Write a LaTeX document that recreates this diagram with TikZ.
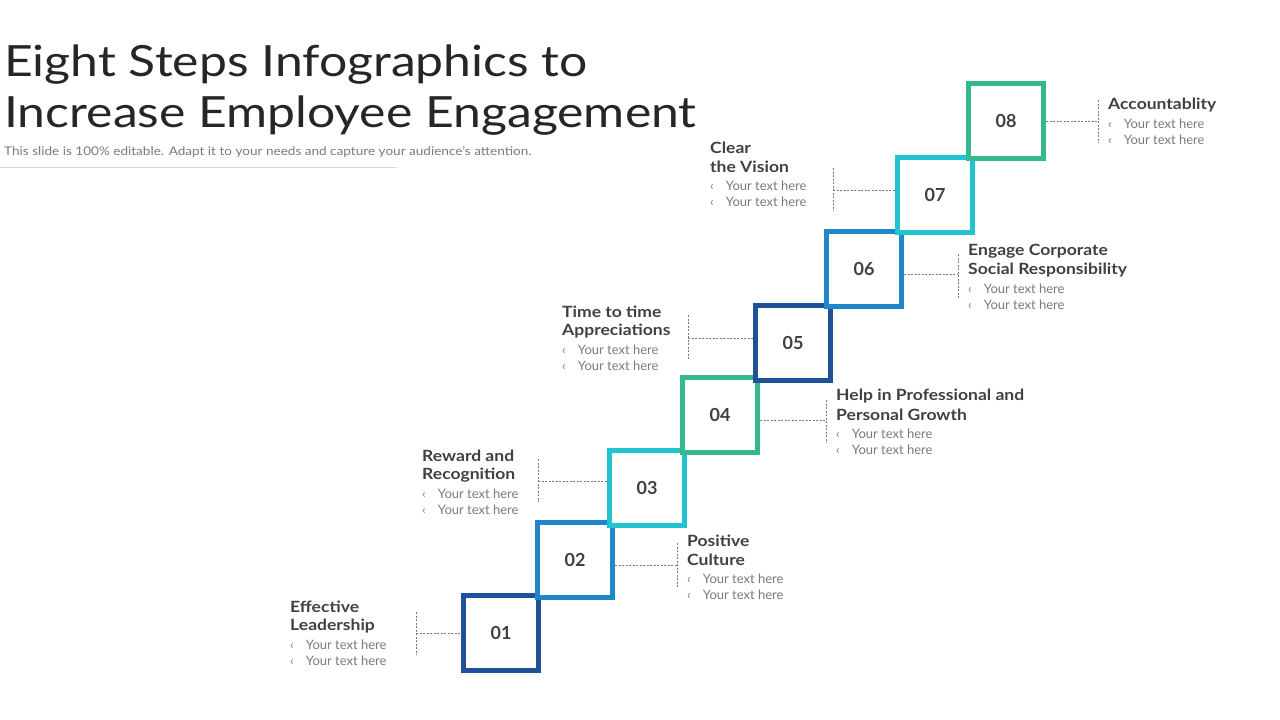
\documentclass[tikz,border=0pt]{standalone}
\usepackage{fontspec}
\setmainfont{Lato}
\definecolor{cA}{HTML}{1F5199}
\definecolor{cB}{HTML}{1E88C9}
\definecolor{cC}{HTML}{22C3D1}
\definecolor{cD}{HTML}{33B98A}
\definecolor{tx}{HTML}{404040}
\definecolor{gr}{HTML}{7A7A7A}
\tikzset{
 stepbox/.style={draw=#1,line width=5.5pt,minimum size=75pt,inner sep=0pt,fill=white,font=\fontsize{18}{20}\selectfont\bfseries,text=tx},
 ttl/.style={anchor=west,inner sep=0pt,xscale=1.13,font=\fontsize{15.5}{18}\selectfont\bfseries,text=tx},
 bul/.style={anchor=west,inner sep=0pt,font=\fontsize{13}{14}\selectfont,text=gr},
 dsh/.style={draw=gr,line width=0.6pt,dash pattern=on 2pt off 1.5pt}
}
\newcommand{\stepText}[5]{%
 \node[ttl] (#1t1) at (#2,#3) {#4};
 \node[ttl] (#1t2) at (#2,#3+19) {#5};
 \node[bul] (#1b1) at (#2,#3+38) {‹\hspace{12pt}Your text here};
 \node[bul] (#1b2) at (#2,#3+54) {‹\hspace{12pt}Your text here};
}
\newcommand{\stepTextOne}[4]{%
 \node[ttl] (#1t1) at (#2,#3) {#4};
 \node[bul] (#1b1) at (#2,#3+19) {‹\hspace{12pt}Your text here};
 \node[bul] (#1b2) at (#2,#3+35) {‹\hspace{12pt}Your text here};
}
\begin{document}
\begin{tikzpicture}[x=1pt,y=-1pt]
\useasboundingbox (0,0) rectangle (1280,720);
\node[anchor=west,inner sep=0pt,xscale=1.16,font=\fontsize{43}{46}\selectfont,text=black!85] (title1) at (4,65) {Eight Steps Infographics to};
\node[anchor=west,inner sep=0pt,xscale=1.16,font=\fontsize{43}{46}\selectfont,text=black!85] (title2) at (4,116) {Increase Employee Engagement};
\node[anchor=west,inner sep=0pt,xscale=1.13,font=\fontsize{12}{13}\selectfont,text=gr] (sub) at (4,152) {This slide is 100\% editable. Adapt it to your needs and capture your audience's attention.};
\draw[black!15,line width=0.6pt] (0,167) -- (397,167);

\node[stepbox=cA] (s1) at (501,633) {01};
\node[stepbox=cB] (s2) at (575,560) {02};
\node[stepbox=cC] (s3) at (647,488) {03};
\node[stepbox=cD] (s4) at (720,415) {04};
\node[stepbox=cA] (s5) at (793,343) {05};
\node[stepbox=cB] (s6) at (864,269) {06};
\node[stepbox=cC] (s7) at (935,195) {07};
\node[stepbox=cD] (s8) at (1006,121) {08};

\coordinate (v1a) at (416,612); \coordinate (v1b) at (416,655);
\draw[dsh] (v1a) -- (v1b); \draw[dsh] (416,633) -- (s1.west);
\coordinate (v2a) at (677,543); \coordinate (v2b) at (677,588);
\draw[dsh] (v2a) -- (v2b); \draw[dsh] (s2.east |- 0,565) -- (677,565);
\coordinate (v3a) at (538,459); \coordinate (v3b) at (538,502);
\draw[dsh] (v3a) -- (v3b); \draw[dsh] (538,481) -- (s3.west |- 0,481);
\coordinate (v4a) at (826,400); \coordinate (v4b) at (826,443);
\draw[dsh] (v4a) -- (v4b); \draw[dsh] (s4.east |- 0,420) -- (826,420);
\coordinate (v5a) at (688,315); \coordinate (v5b) at (688,360);
\draw[dsh] (v5a) -- (v5b); \draw[dsh] (688,338) -- (s5.west |- 0,338);
\coordinate (v6a) at (958,254); \coordinate (v6b) at (958,298);
\draw[dsh] (v6a) -- (v6b); \draw[dsh] (s6.east |- 0,274) -- (958,274);
\coordinate (v7a) at (833,168); \coordinate (v7b) at (833,211);
\draw[dsh] (v7a) -- (v7b); \draw[dsh] (833,190) -- (s7.west |- 0,190);
\coordinate (v8a) at (1098,100); \coordinate (v8b) at (1098,143);
\draw[dsh] (v8a) -- (v8b); \draw[dsh] (s8.east |- 0,121) -- (1098,121);

\stepText{a}{290}{607}{Effective}{Leadership}
\stepText{b}{687}{541}{Positive}{Culture}
\stepText{c}{422}{456}{Reward and}{Recognition}
\stepText{d}{836}{396}{Help in Professional and}{Personal Growth}
\stepText{e}{562}{312}{Time to time}{Appreciations}
\stepText{f}{968}{251}{Engage Corporate}{Social Responsibility}
\stepText{g}{710}{148}{Clear}{the Vision}
\stepTextOne{h}{1108}{105}{Accountablity}
\end{tikzpicture}
\end{document}
